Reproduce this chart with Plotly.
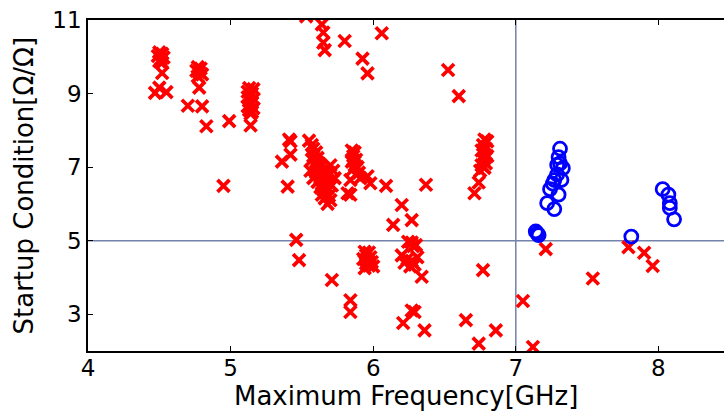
import plotly.graph_objects as go

red_x = [
    4.50, 4.52, 4.49, 4.53, 4.51, 4.50, 4.52, 4.52, 4.47, 4.55, 4.50,
    4.77, 4.79, 4.76, 4.78, 4.80, 4.77, 4.78, 4.70, 4.80, 4.83,
    4.99, 5.14, 4.95,
    5.13, 5.16, 5.12, 5.15, 5.14, 5.12, 5.16, 5.13, 5.15, 5.14, 5.12, 5.16, 5.13, 5.15, 5.14,
    5.41, 5.42, 5.36, 5.42, 5.40,
    5.55, 5.57, 5.58, 5.60, 5.58, 5.61, 5.60, 5.62, 5.59, 5.63, 5.61, 5.64, 5.60, 5.62, 5.66,
    5.63, 5.65, 5.61, 5.67, 5.64, 5.66, 5.63, 5.68, 5.65, 5.67, 5.64, 5.69, 5.66, 5.70, 5.68,
    5.72, 5.70, 5.73, 5.69, 5.58, 5.71, 5.56, 5.57,
    5.85, 5.87, 5.86, 5.88, 5.85, 5.87, 5.89, 5.86, 5.90, 5.88, 5.91, 5.84, 5.96, 5.98, 6.09,
    6.37, 5.82, 5.84,
    5.53, 5.64, 5.65, 5.65, 5.66, 5.80, 5.925, 5.96, 6.06, 6.525, 6.60,
    6.78, 6.80, 6.77, 6.79, 6.76, 6.78, 6.80, 6.77, 6.79, 6.76, 6.78, 6.75, 6.74, 6.71,
    6.20, 6.27, 6.14, 6.245, 6.30, 6.27, 6.28,
    6.20, 6.24, 6.27, 6.22, 6.29, 6.26, 6.31, 6.34,
    5.46, 5.48, 5.71, 5.84, 5.84,
    5.94, 5.97, 5.95, 5.98, 5.93, 5.96, 5.99, 5.95, 5.97, 6.00, 5.94,
    6.29, 6.27, 6.21, 6.36, 6.65, 6.74, 6.86, 6.77, 7.05, 7.21, 7.54, 7.12, 7.79, 7.90, 7.96,
]
red_y = [
    10.12, 10.08, 10.02, 9.98, 9.93, 9.88, 9.84, 9.56, 9.02, 9.04, 9.16,
    9.72, 9.68, 9.62, 9.58, 9.52, 9.47, 9.16, 8.67, 8.65, 8.11,
    8.25, 8.13, 6.49,
    9.15, 9.12, 9.05, 9.00, 8.95, 8.90, 8.85, 8.80, 8.75, 8.70, 8.65, 8.60, 8.55, 8.50, 8.45,
    7.75, 7.70, 7.15, 7.34, 6.47,
    7.72, 7.60, 7.50, 7.40, 7.30, 7.25, 7.15, 7.10, 7.05, 7.00, 6.95, 6.90, 6.85, 6.80, 6.78,
    6.72, 6.65, 6.60, 6.60, 6.55, 6.50, 6.45, 6.42, 6.38, 6.30, 6.25, 6.22, 6.15, 6.10, 6.00,
    6.90, 7.05, 6.70, 6.85, 6.70, 6.50, 6.90, 7.20,
    7.45, 7.40, 7.30, 7.20, 7.15, 7.05, 7.00, 6.95, 6.85, 6.80, 6.70, 6.65, 6.75, 6.56, 6.49,
    6.52, 6.29, 6.25,
    11.10, 10.88, 10.66, 10.38, 10.18, 10.43, 9.95, 9.55, 10.64, 9.64, 8.93,
    7.75, 7.70, 7.60, 7.50, 7.45, 7.35, 7.30, 7.20, 7.10, 7.05, 6.98, 6.90, 6.58, 6.29,
    5.97, 5.56, 5.43, 4.97, 4.88, 4.95, 4.85,
    4.60, 4.50, 4.45, 4.40, 4.35, 4.30, 4.55, 4.02,
    5.02, 4.47, 3.93, 3.38, 3.06,
    4.70, 4.68, 4.60, 4.55, 4.50, 4.48, 4.42, 4.38, 4.32, 4.30, 4.25,
    3.06, 3.10, 2.76, 2.56, 2.84, 2.20, 2.56, 4.20, 3.36, 4.77, 3.97, 2.11, 4.82, 4.67, 4.31,
]

blue_x = [7.31, 7.30, 7.33, 7.29, 7.27, 7.32, 7.24, 7.30, 7.22, 7.27, 7.14, 7.15, 7.16,
          7.81, 8.03, 8.07, 8.08, 8.08, 8.11, 7.29, 7.31, 7.26]
blue_y = [7.50, 7.27, 6.97, 7.06, 6.65, 6.65, 6.40, 6.25, 6.02, 5.86, 5.25, 5.20, 5.15,
          5.11, 6.40, 6.25, 6.02, 5.89, 5.58, 6.80, 7.10, 6.55]

x_ticks = [4, 5, 6, 7, 8]
y_ticks = [3, 5, 7, 9, 11]
x_threshold = 7
y_threshold = 5

fig = go.Figure()
fig.add_trace(go.Scatter(
    x=red_x, y=red_y, mode="markers",
    marker=dict(symbol="x-thin", size=12, line=dict(color="#ff0000", width=3.7), color="#ff0000"),
    showlegend=False,
))
fig.add_trace(go.Scatter(
    x=blue_x, y=blue_y, mode="markers",
    marker=dict(symbol="circle-open", size=13, line=dict(color="#0000ff", width=2.8), color="#0000ff"),
    showlegend=False,
))

line_col = "#7282aa"
fig.add_shape(type="line", xref="x", yref="paper", x0=x_threshold, x1=x_threshold, y0=0, y1=1,
              line=dict(color=line_col, width=1.5), layer="below")
fig.add_shape(type="line", xref="paper", yref="y", x0=0, x1=1, y0=y_threshold, y1=y_threshold,
              line=dict(color=line_col, width=1.5), layer="below")

title_font = dict(family="DejaVu Sans", size=26, color="black")
fig.add_annotation(text="Maximum Frequency[GHz]", xref="paper", yref="paper",
                   x=0.5, y=0, yshift=-45, xanchor="center", yanchor="middle",
                   showarrow=False, font=title_font)
fig.add_annotation(text="Startup Condition[Ω/Ω]", xref="paper", yref="paper",
                   x=0, y=0.5, xshift=-65, xanchor="center", yanchor="middle", textangle=-90,
                   showarrow=False, font=title_font)

tick_font = dict(family="DejaVu Sans", size=23, color="black")
fig.update_layout(
    width=724, height=411,
    margin=dict(l=88, r=0, t=20, b=60, autoexpand=False),
    paper_bgcolor="white", plot_bgcolor="white",
    font=dict(family="DejaVu Sans", size=23, color="black"),
    xaxis=dict(
        range=[4, 8.46], tickvals=x_ticks, ticktext=[str(v) for v in x_ticks],
        showgrid=False, zeroline=False, automargin=False,
        showline=True, linecolor="black", linewidth=1.5, mirror="ticks",
        ticks="inside", ticklen=5, tickcolor="black", tickwidth=1,
        tickfont=tick_font, ticklabeloverflow="allow", ticklabelstandoff=-4,
    ),
    yaxis=dict(
        range=[2, 11], tickvals=y_ticks, ticktext=[str(v) for v in y_ticks],
        showgrid=False, zeroline=False, automargin=False,
        showline=True, linecolor="black", linewidth=1.5,
        ticks="inside", ticklen=5, tickcolor="black", tickwidth=1,
        tickfont=tick_font, ticklabeloverflow="allow",
    ),
)

fig.write_html(
    "out.html",
    config={"displayModeBar": False},
    post_script="document.body.style.margin='0';document.body.style.overflow='hidden';",
)
